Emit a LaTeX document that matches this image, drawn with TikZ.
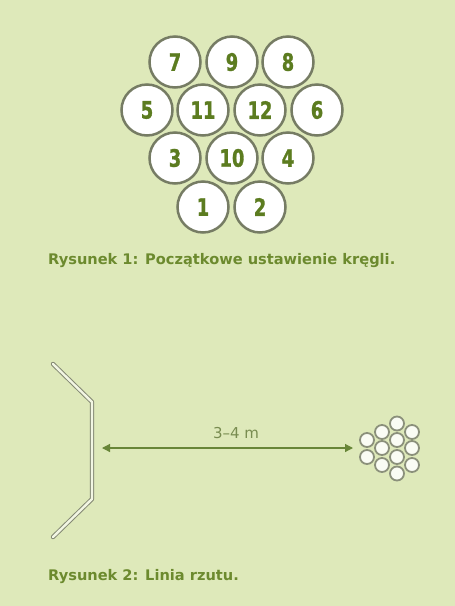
\documentclass[tikz,border=0pt]{standalone}
\usepackage{fontspec}
\setmainfont{DejaVu Sans}
\newfontfamily\numfont{DejaVu Sans}[FakeStretch=0.74, FakeBold=1.2]
\usetikzlibrary{arrows.meta}
\definecolor{bg}{RGB}{222,233,186}
\definecolor{pinedge}{RGB}{118,124,100}
\definecolor{numgreen}{RGB}{92,124,32}
\definecolor{capgreen}{RGB}{108,138,46}
\definecolor{arrowgreen}{RGB}{104,134,56}
\definecolor{lblgreen}{RGB}{120,140,80}
\definecolor{minifill}{RGB}{250,252,244}
\begin{document}
\begin{tikzpicture}[x=1pt,y=-1pt,
  pin/.style={circle, draw=pinedge, line width=2.5pt, fill=white, minimum size=51pt, inner sep=0pt,
    font=\numfont\bfseries\fontsize{24}{24}\selectfont, text=numgreen},
  minipin/.style={circle, draw=pinedge!85, line width=1.8pt, fill=minifill, minimum size=14pt, inner sep=0pt},
  caption/.style={font=\bfseries\fontsize{14.6}{16}\selectfont, text=capgreen, anchor=west, inner sep=0pt},
  railline/.style={draw=pinedge!90, line width=1pt, double=bg!40!white, double distance=2.4pt, line join=round, line cap=round},
  distarrow/.style={draw=arrowgreen, line width=1.2pt, {Triangle[length=8pt,width=8pt]}-{Triangle[length=8pt,width=8pt]}},
]
\fill[bg] (0,0) rectangle (455,606);
\useasboundingbox (0,0) rectangle (455,606);

% top pin layout
\node[pin] (p7)  at (175,62)  {7};
\node[pin] (p9)  at (232,62)  {9};
\node[pin] (p8)  at (288,62)  {8};
\node[pin] (p5)  at (147,110) {5};
\node[pin] (p11) at (203,110) {11};
\node[pin] (p12) at (260,110) {12};
\node[pin] (p6)  at (317,110) {6};
\node[pin] (p3)  at (175,158) {3};
\node[pin] (p10) at (232,158) {10};
\node[pin] (p4)  at (288,158) {4};
\node[pin] (p1)  at (203,207) {1};
\node[pin] (p2)  at (260,207) {2};

\node[caption] (cap1) at (48,261) {Rysunek 1: Początkowe ustawienie kręgli.};

% throwing line
\coordinate (b1) at (53,364);
\coordinate (b2) at (92,402);
\coordinate (b3) at (92,499);
\coordinate (b4) at (53,537);
\draw[railline] (b1) -- (b2) -- (b3) -- (b4);

% small pin cluster
\foreach \n/\x/\y in {a/367/440, b/367/457,
                      c/382/432, d/382/448, e/382/465,
                      f/397/423.5, g/397/440, h/397/457, i/397/473.5,
                      j/412/432, k/412/448, l/412/465}
  \node[minipin] (m\n) at (\x,\y) {};

\coordinate (arrL) at (102,448);
\coordinate (arrR) at (353,448);
\draw[distarrow] (arrL) -- (arrR);
\node[font=\fontsize{15}{17}\selectfont, text=lblgreen] (lbl) at (236,433) {3–4 m};

\node[caption] (cap2) at (48,577) {Rysunek 2: Linia rzutu.};
\end{tikzpicture}
\end{document}
